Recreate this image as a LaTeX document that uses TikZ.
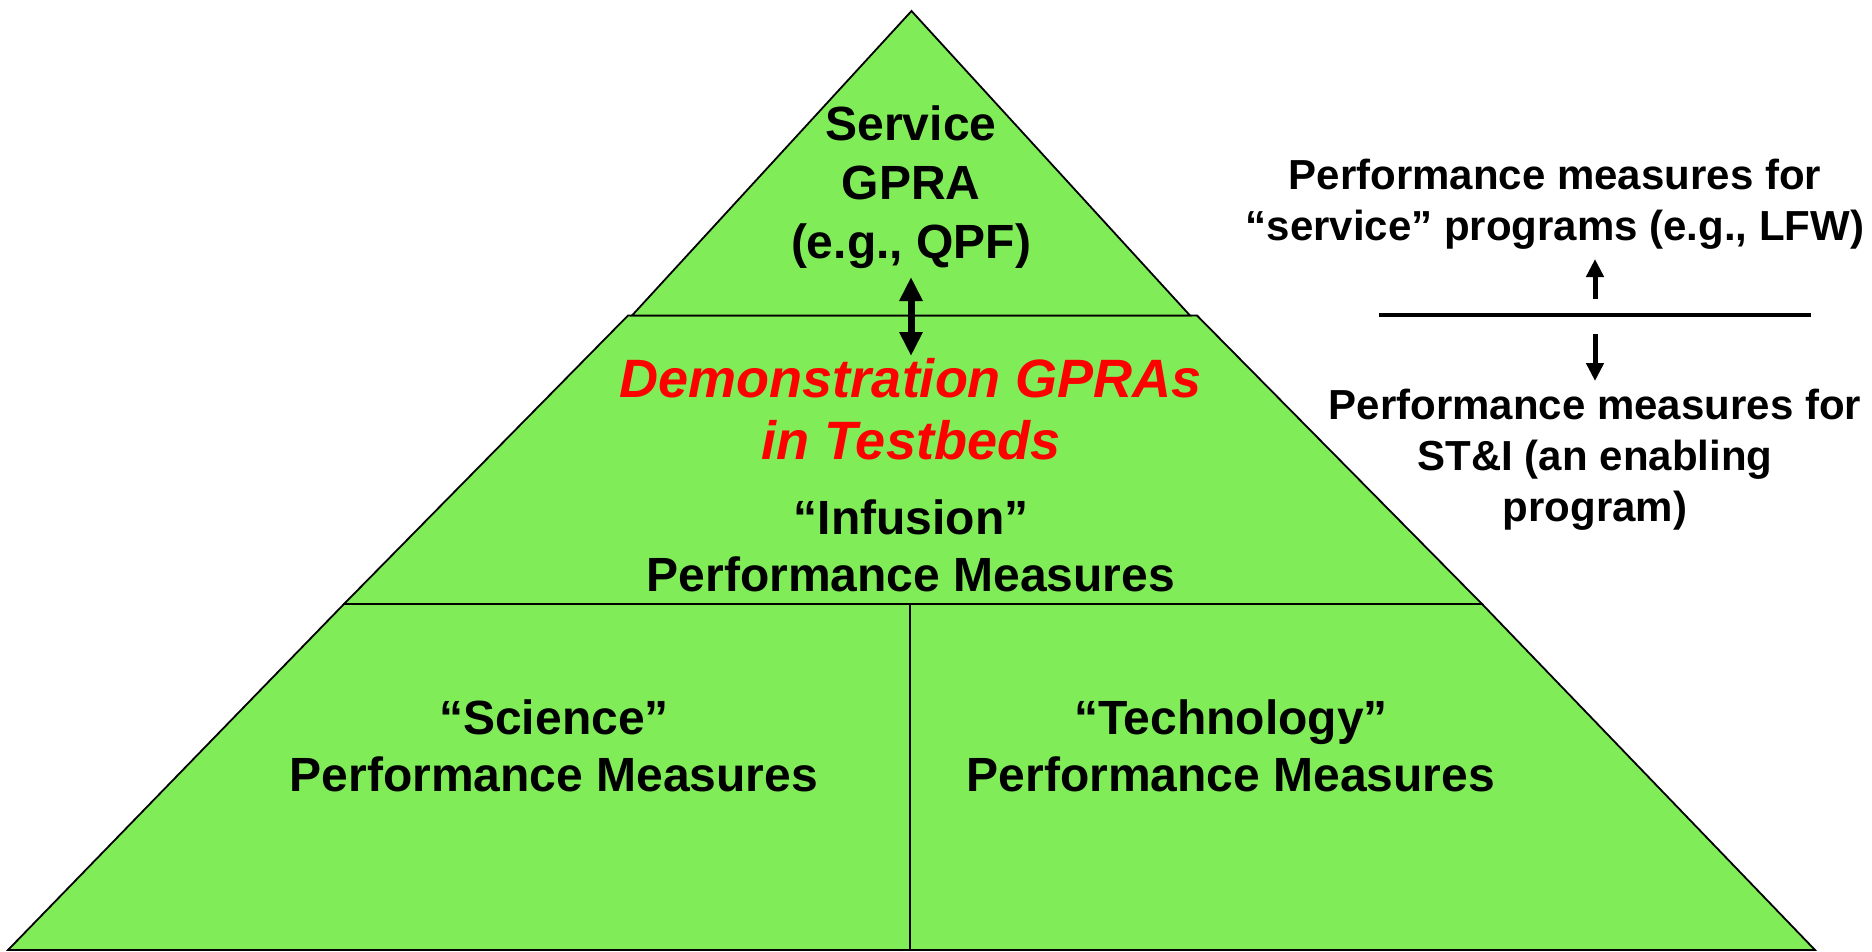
\documentclass[tikz,border=0pt]{standalone}
\usepackage{fontspec}
\setmainfont{Liberation Sans}
\usetikzlibrary{arrows.meta}
\definecolor{pyrgreen}{RGB}{128,236,88}
\definecolor{demored}{RGB}{255,0,0}
\begin{document}
\begin{tikzpicture}[x=1pt,y=-1pt,
  band/.style={fill=pyrgreen,draw=black,line width=1.8pt,line join=miter},
  bigtxt/.style={align=center,inner sep=0pt,font=\fontsize{48}{57}\selectfont\bfseries},
  sidetxt/.style={align=center,inner sep=0pt,font=\fontsize{42}{51}\selectfont\bfseries},
  bigarrow/.style={line width=7pt,{Triangle[width=22pt,length=24pt]}-{Triangle[width=22pt,length=24pt]}},
  smallarrow/.style={line width=5pt,-{Triangle[width=17pt,length=18pt]}}]
\useasboundingbox (0,0) rectangle (1872,951);
% pyramid bands
\draw[band] (8,950) -- (344,604) -- (1482,604) -- (1815,950) -- cycle;
\draw[black,line width=1.8pt] (910,604) -- (910,950);
\draw[band] (344,604) -- (628,315.5) -- (1197,315.5) -- (1482,604) -- cycle;
\draw[band] (632,315.5) -- (911.5,11) -- (1190,315.5) -- cycle;
% texts
\node[bigtxt,font=\fontsize{48}{59}\selectfont\bfseries] (svc) at (911,187) {Service\\GPRA\\(e.g., QPF)};
\node[bigtxt,text=demored,font=\fontsize{54}{62}\selectfont\bfseries\itshape] (demo) at (911,409) {Demonstration GPRAs\\in Testbeds};
\node[bigtxt] (infusion) at (911,546) {“Infusion”\\Performance Measures};
\node[bigtxt] (science) at (554,746) {“Science”\\Performance Measures};
\node[bigtxt] (tech) at (1231,746) {“Technology”\\Performance Measures};
\node[sidetxt] (rtop) at (1555,204) {Performance measures for\\“service” programs (e.g., LFW)};
\node[sidetxt] (rbot) at (1595,460) {Performance measures for\\ST\&I (an enabling\\program)};
% arrows
\coordinate (ca) at (911,277);
\coordinate (cb) at (911,356);
\draw[bigarrow] (ca) -- (cb);
\coordinate (la) at (1379,315);
\coordinate (lb) at (1811,315);
\draw[line width=3.5pt] (la) -- (lb);
\coordinate (ua) at (1595,299);
\coordinate (ub) at (1595,259);
\draw[smallarrow] (ua) -- (ub);
\coordinate (da) at (1595,334);
\coordinate (db) at (1595,381);
\draw[smallarrow] (da) -- (db);
\end{tikzpicture}
\end{document}
